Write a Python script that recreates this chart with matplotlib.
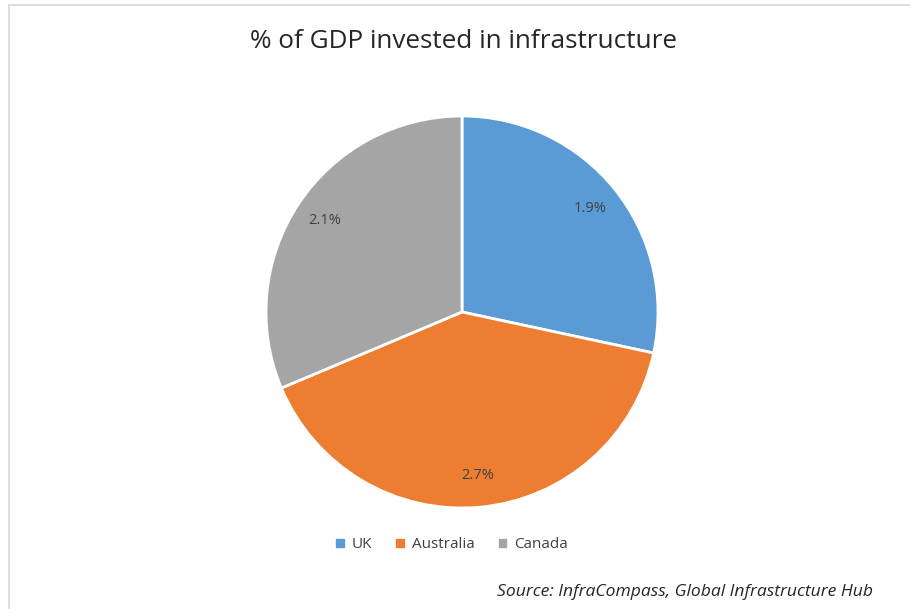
import matplotlib
matplotlib.use("Agg")
import matplotlib.pyplot as plt
from matplotlib.lines import Line2D

categories = ["UK", "Australia", "Canada"]
values = [1.9, 2.7, 2.1]
labels = ["1.9%", "2.7%", "2.1%"]
colors = ["#5B9BD5", "#ED7D31", "#A5A5A5"]
title = "% of GDP invested in infrastructure"
source = "Source: InfraCompass, Global Infrastructure Hub"

W, H = 910, 609
fig = plt.figure(figsize=(W/100, H/100), dpi=100)
fig.patch.set_facecolor("white")

# light border lines (top and left)
fig.add_artist(Line2D([9/W, 1], [1-5/H, 1-5/H], color="#D9D9D9", lw=1.2))
fig.add_artist(Line2D([9/W, 9/W], [0, 1-5/H], color="#D9D9D9", lw=1.2))

cx, cy, r = 462, 312, 196
ax = fig.add_axes([(cx-r)/W, (H-cy-r)/H, 2*r/W, 2*r/H])
wedges, texts = ax.pie(values, colors=colors, startangle=90, counterclock=False,
                       labels=labels, labeldistance=0.84,
                       wedgeprops=dict(edgecolor="white", linewidth=2),
                       textprops=dict(fontsize=10.5, color="#404040", family="Open Sans"))
for t in texts:
    t.set_ha("center"); t.set_va("center")
ax.set_xlim(-1, 1); ax.set_ylim(-1, 1)
ax.set_aspect("equal")
ax.axis("off")

fig.text(463/W, 1-42/H, title, ha="center", va="center", fontsize=18.8,
         color="#262626", family="Open Sans")

handles = [plt.Rectangle((0, 0), 1, 1, color=c) for c in colors]
fig.legend(handles, categories, loc="center", bbox_to_anchor=(452/W, 1-545/H),
           ncol=3, frameon=False, handlelength=0.5, handleheight=0.5,
           handletextpad=0.5, columnspacing=1.6,
           prop=dict(family="Open Sans", size=11), labelcolor="#404040")

fig.text(873/W, 1-592/H, source, ha="right", va="center", fontsize=12.6,
         style="italic", color="#262626", family="Open Sans")

fig.savefig("out.png", dpi=100, facecolor="white")
